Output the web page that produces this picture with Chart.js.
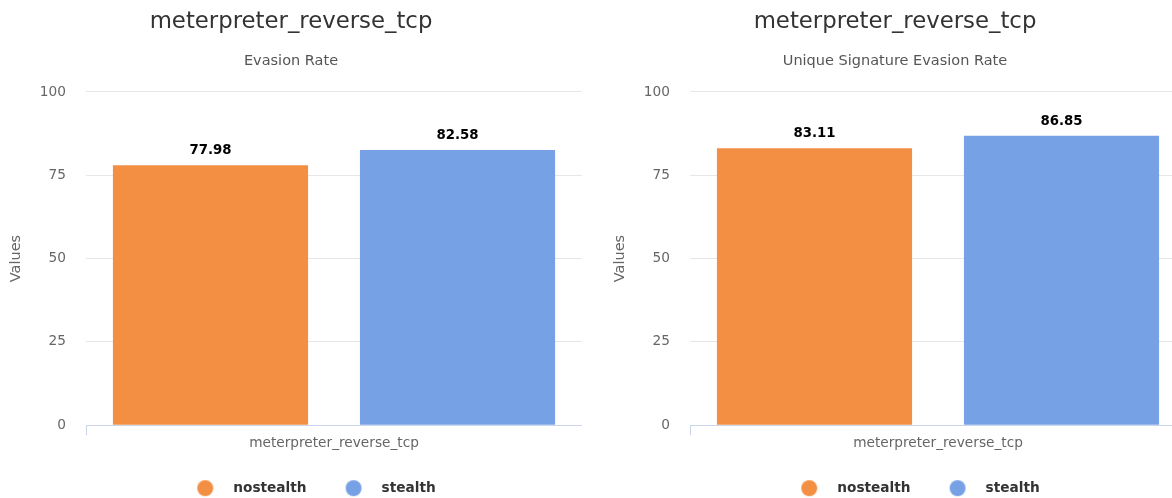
<!DOCTYPE html>
<html>
<head>
<meta charset="utf-8">
<title>meterpreter_reverse_tcp</title>
<script src="https://cdn.jsdelivr.net/npm/chart.js@4.4.1/dist/chart.umd.min.js"></script>
<style>
  html, body { margin: 0; padding: 0; background: #ffffff; width: 1172px; height: 498px; overflow: hidden; }
  .panel { position: absolute; top: 0; width: 582px; height: 505px; }
  #panel-left { left: 0; }
  #panel-right { left: 604px; }
</style>
</head>
<body>
<div class="panel" id="panel-left"><canvas id="chart-left"></canvas></div>
<div class="panel" id="panel-right"><canvas id="chart-right"></canvas></div>
<script>
// ---- data ----
const categories = ['meterpreter_reverse_tcp'];
const seriesNames = ['nostealth', 'stealth'];
const evasionRate = [77.98, 82.58];                 // nostealth, stealth
const uniqueSignatureEvasionRate = [83.11, 86.85];  // nostealth, stealth
const yTickValues = [0, 25, 50, 75, 100];
const chartTitle = 'meterpreter_reverse_tcp';
const leftSubtitle = 'Evasion Rate';
const rightSubtitle = 'Unique Signature Evasion Rate';
const yAxisTitle = 'Values';

// ---- styling ----
const FONT = '"DejaVu Sans", Verdana, sans-serif';
const seriesColors = ['#f28f43', '#77a1e5'];
const LEGEND_FONT = 13.7;
const LEGEND_BOX = 80.15;
const LEGEND_PAD = -12;

Chart.defaults.font.family = FONT;

// round legend marker, shifted right inside the legend box so the label sits a little apart
function legendMarker(color) {
  const c = document.createElement('canvas');
  c.width = 56; c.height = 18;
  const g = c.getContext('2d');
  const shift = LEGEND_BOX / 2 + LEGEND_FONT / 2 - 28;
  g.fillStyle = color;
  g.beginPath();
  g.arc(c.width / 2 + shift, 9, 8, 0, Math.PI * 2);
  g.fill();
  return c;
}
const markers = seriesColors.map(legendMarker);

// value printed above each bar
const valueLabels = {
  id: 'valueLabels',
  afterDatasetsDraw(chart) {
    const ctx = chart.ctx;
    ctx.save();
    ctx.font = 'bold 13.3px ' + FONT;
    ctx.fillStyle = '#000000';
    ctx.textAlign = 'center';
    ctx.textBaseline = 'middle';
    chart.data.datasets.forEach((ds, i) => {
      chart.getDatasetMeta(i).data.forEach((bar, j) => {
        ctx.fillText(ds.data[j].toFixed(2), bar.x, bar.y - 14.5);
      });
    });
    ctx.restore();
  }
};

function buildConfig(subtitle, values) {
  return {
    type: 'bar',
    data: {
      labels: categories,
      datasets: seriesNames.map((name, i) => ({
        label: name,
        data: [values[i]],
        backgroundColor: seriesColors[i],
        borderWidth: 0,
        categoryPercentage: 0.996,
        barPercentage: 0.79
      }))
    },
    options: {
      responsive: true,
      maintainAspectRatio: false,
      animation: false,
      devicePixelRatio: 1,
      layout: { padding: 0 },
      scales: {
        x: {
          offset: true,
          grid: {
            display: true,
            offset: true,
            drawOnChartArea: false,
            drawTicks: true,
            tickLength: 10,
            color: '#ccd6eb'
          },
          border: { display: true, color: '#ccd6eb', width: 1 },
          ticks: { color: '#666666', font: { size: 13.7 }, padding: 0, maxRotation: 0 },
          afterFit(scale) { scale.height = 52.15; }
        },
        y: {
          min: 0,
          max: 100,
          afterBuildTicks(scale) { scale.ticks = yTickValues.map(v => ({ value: v })); },
          grid: { color: '#e6e6e6', lineWidth: 1, drawTicks: false },
          border: { display: false },
          ticks: { color: '#666666', font: { size: 13.7 }, padding: 20 },
          title: {
            display: true,
            text: yAxisTitle,
            color: '#666666',
            font: { size: 14.5 },
            padding: { top: 8, bottom: 0 }
          },
          afterFit(scale) { scale.width = 86; }
        }
      },
      plugins: {
        title: {
          display: true,
          text: chartTitle,
          color: '#333333',
          font: { size: 22.8, weight: 'normal' },
          padding: { top: 8.5, bottom: 8 }
        },
        subtitle: {
          display: true,
          text: subtitle,
          color: '#555555',
          font: { size: 14.5 },
          padding: { top: 8.4, bottom: 22.3 }
        },
        legend: {
          display: true,
          position: 'bottom',
          // empty title only reserves room above the items
          title: { display: true, text: '', font: { size: 10 }, padding: { top: 4, bottom: 0 } },
          labels: {
            usePointStyle: true,
            pointStyleWidth: LEGEND_BOX,
            padding: LEGEND_PAD,
            color: '#333333',
            font: { size: LEGEND_FONT, weight: 'bold' },
            generateLabels(chart) {
              const items = Chart.defaults.plugins.legend.labels.generateLabels(chart);
              items.forEach((it, i) => { it.pointStyle = markers[i]; });
              return items;
            }
          }
        },
        tooltip: { enabled: false }
      }
    },
    plugins: [valueLabels]
  };
}

new Chart(document.getElementById('chart-left'), buildConfig(leftSubtitle, evasionRate));
new Chart(document.getElementById('chart-right'), buildConfig(rightSubtitle, uniqueSignatureEvasionRate));
</script>
</body>
</html>
